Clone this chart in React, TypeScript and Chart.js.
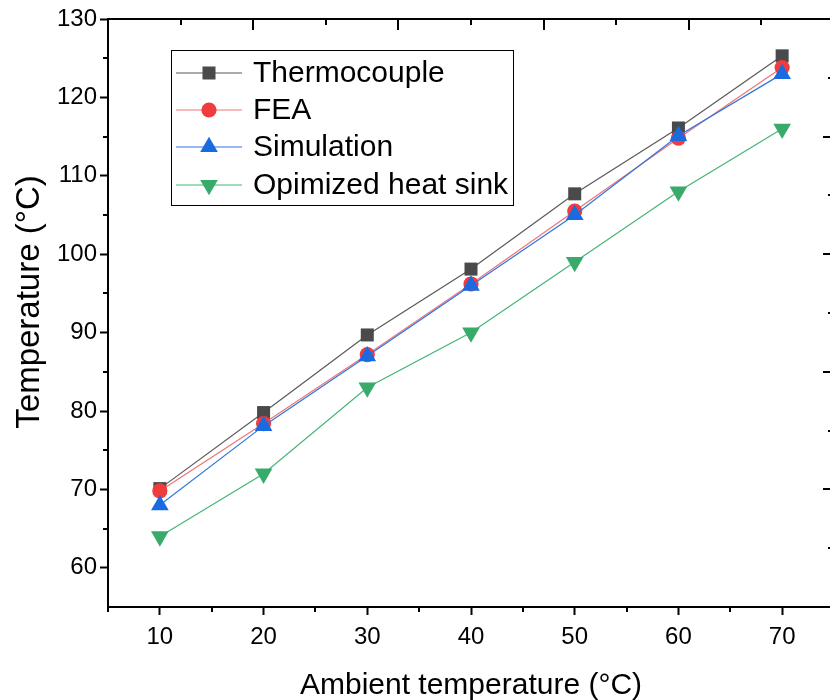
import React, { useEffect, useRef } from 'react';
import { Chart, registerables } from 'chart.js';
import { drawPoint } from 'chart.js/helpers';

Chart.register(...registerables);

const FONT = "'Liberation Sans', Arial, Helvetica, sans-serif";

// ---- data ----
const ambient = [10, 20, 30, 40, 50, 60, 70];
const thermocouple = [70.1, 79.8, 89.7, 98.1, 107.7, 116.1, 125.3];
const fea = [69.8, 78.4, 87.2, 96.2, 105.5, 114.8, 123.8];
const simulation = [68.0, 78.1, 87.0, 96.0, 105.0, 115.1, 123.0];
const optimized = [64, 72, 83, 90, 99, 108, 116];

const seriesNames = ['Thermocouple', 'FEA', 'Simulation', 'Opimized heat sink'];
const xTitle = 'Ambient temperature (°C)';
const yTitle = 'Temperature (°C)';

const xTicks = [10, 20, 30, 40, 50, 60, 70];
const xMinorTicks = [5, 15, 25, 35, 45, 55, 65, 75];
const yTicks = [60, 70, 80, 90, 100, 110, 120, 130];
const yMinorTicks = [65, 75, 85, 95, 105, 115, 125];
// secondary (unlabelled) top and right axes
const topMajor = [5, 19, 33, 47, 61, 75];
const topMinor = [12, 26, 40, 54, 68];
const rightMajor = [55, 70, 85, 100, 115, 130];
const rightMinor = [62.5, 77.5, 92.5, 107.5, 122.5];

const styles = [
  { line: '#595959', fill: '#4a4a4a', point: 'rect', radius: 9.2, rotation: 0 },
  { line: '#f07474', fill: '#f03c3c', point: 'circle', radius: 7.6, rotation: 0 },
  { line: '#2f74e0', fill: '#1a6ae0', point: 'triangle', radius: 10.2, rotation: 0 },
  { line: '#45b577', fill: '#38ab6b', point: 'triangle', radius: 10.2, rotation: 180 },
];
const seriesValues = [thermocouple, fea, simulation, optimized];

const extrasPlugin = {
  id: 'extras',
  afterDraw(chart: any) {
    const { ctx, chartArea: a, scales } = chart;
    const x = scales.x;
    const y = scales.y;
    ctx.save();
    ctx.strokeStyle = '#000';
    ctx.lineWidth = 2;
    // frame top & right
    ctx.beginPath();
    ctx.moveTo(a.left - 1, a.top);
    ctx.lineTo(a.right, a.top);
    ctx.lineTo(a.right, a.bottom);
    ctx.stroke();
    // minor ticks bottom / left
    xMinorTicks.forEach((v) => {
      const px = Math.round(x.getPixelForValue(v));
      ctx.beginPath();
      ctx.moveTo(px, a.bottom);
      ctx.lineTo(px, a.bottom + 5);
      ctx.stroke();
    });
    yMinorTicks.forEach((v) => {
      const py = Math.round(y.getPixelForValue(v));
      ctx.beginPath();
      ctx.moveTo(a.left - 5, py);
      ctx.lineTo(a.left, py);
      ctx.stroke();
    });
    // top axis ticks (inward)
    topMajor.forEach((v) => {
      const px = Math.round(x.getPixelForValue(v));
      ctx.beginPath();
      ctx.moveTo(px, a.top);
      ctx.lineTo(px, a.top + 11);
      ctx.stroke();
    });
    topMinor.forEach((v) => {
      const px = Math.round(x.getPixelForValue(v));
      ctx.beginPath();
      ctx.moveTo(px, a.top);
      ctx.lineTo(px, a.top + 6);
      ctx.stroke();
    });
    // right axis ticks (inward)
    rightMajor.forEach((v) => {
      const py = Math.round(y.getPixelForValue(v));
      ctx.beginPath();
      ctx.moveTo(a.right, py);
      ctx.lineTo(a.right - 11, py);
      ctx.stroke();
    });
    rightMinor.forEach((v) => {
      const py = Math.round(y.getPixelForValue(v));
      ctx.beginPath();
      ctx.moveTo(a.right, py);
      ctx.lineTo(a.right - 6, py);
      ctx.stroke();
    });

    // y axis title
    ctx.save();
    ctx.translate(30, 302);
    ctx.rotate(-Math.PI / 2);
    ctx.font = `33px ${FONT}`;
    ctx.fillStyle = '#000';
    ctx.textAlign = 'center';
    ctx.textBaseline = 'middle';
    ctx.fillText(yTitle, 0, 0);
    ctx.restore();

    // legend
    const lx = 171, ly = 50, lw = 342, lh = 155;
    ctx.lineWidth = 1;
    ctx.strokeStyle = '#000';
    ctx.strokeRect(lx + 0.5, ly + 0.5, lw, lh);
    const rowY = [73, 110, 147, 185];
    ctx.font = `30px ${FONT}`;
    ctx.textBaseline = 'middle';
    ctx.textAlign = 'left';
    seriesNames.forEach((name, i) => {
      const s = styles[i];
      const cy = rowY[i];
      ctx.strokeStyle = s.line;
      ctx.lineWidth = 1.2;
      ctx.beginPath();
      ctx.moveTo(176, cy);
      ctx.lineTo(242, cy);
      ctx.stroke();
      ctx.fillStyle = s.fill;
      drawPoint(ctx, { pointStyle: s.point, radius: s.radius, rotation: s.rotation, borderWidth: 0 } as any, 209, cy);
      ctx.fillStyle = '#000';
      ctx.fillText(name, 253, cy + 1);
    });
    ctx.restore();
  },
};

export default function App() {
  const ref = useRef<HTMLCanvasElement>(null);
  useEffect(() => {
    if (!ref.current) return;
    Chart.defaults.font.family = FONT;
    const datasets = seriesNames.map((name, i) => ({
      label: name,
      data: ambient.map((xv, j) => ({ x: xv, y: seriesValues[i][j] })),
      borderColor: styles[i].line,
      borderWidth: 1.2,
      backgroundColor: styles[i].fill,
      pointStyle: styles[i].point,
      pointRadius: styles[i].radius,
      pointRotation: styles[i].rotation,
      pointBackgroundColor: styles[i].fill,
      pointBorderWidth: 0,
      pointHoverRadius: styles[i].radius,
      tension: 0,
      fill: false,
      order: 4 - i,
    }));
    const tickFont = { family: FONT, size: 24 };
    const chart = new Chart(ref.current, {
      type: 'line',
      data: { datasets },
      options: {
        responsive: false,
        animation: false,
        events: [],
        layout: { padding: { top: 19, right: 26, left: 0, bottom: 0 } },
        plugins: { legend: { display: false }, tooltip: { enabled: false } },
        scales: {
          x: {
            type: 'linear',
            min: 5,
            max: 75,
            afterBuildTicks: (s: any) => { s.ticks = xTicks.map((v) => ({ value: v })); },
            afterFit: (s: any) => { s.height = 93; },
            grid: { drawOnChartArea: false, drawTicks: true, tickLength: 8, tickWidth: 2, tickColor: '#000' },
            border: { display: true, color: '#000', width: 2 },
            ticks: { font: tickFont, color: '#000', padding: 8, maxRotation: 0, autoSkip: false },
            title: { display: true, text: xTitle, color: '#000', font: { family: FONT, size: 30 }, padding: { top: 0, bottom: -4 } },
          },
          y: {
            type: 'linear',
            min: 55,
            max: 130,
            afterBuildTicks: (s: any) => { s.ticks = yTicks.map((v) => ({ value: v })); },
            afterFit: (s: any) => { s.width = 108; },
            grid: { drawOnChartArea: false, drawTicks: true, tickLength: 8, tickWidth: 2, tickColor: '#000' },
            border: { display: true, color: '#000', width: 2 },
            ticks: { font: tickFont, color: '#000', padding: 3, autoSkip: false },
            title: { display: false },
          },
        },
      },
      plugins: [extrasPlugin],
    } as any);
    return () => chart.destroy();
  }, []);
  return (
    <div style={{ position: 'absolute', left: 0, top: 0, width: 830, height: 700, overflow: 'hidden', background: '#fff' }}>
      <canvas ref={ref} width={860} height={700} style={{ display: 'block', width: 860, height: 700 }} />
    </div>
  );
}
